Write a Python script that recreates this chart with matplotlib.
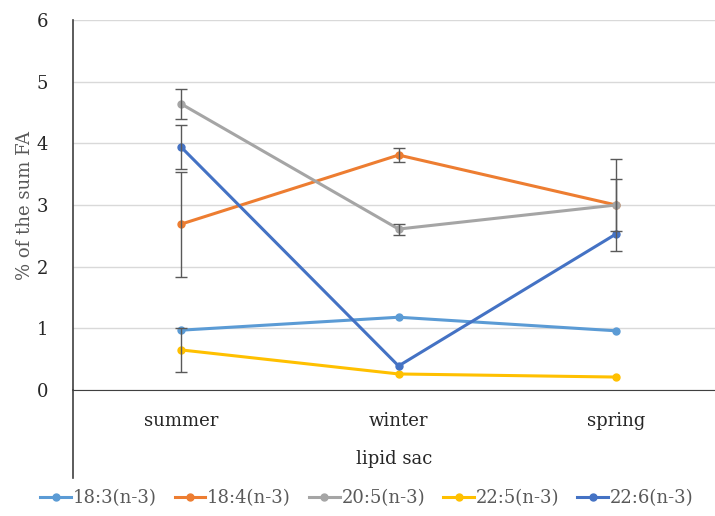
import matplotlib.pyplot as plt
import numpy as np

# data
seasons = ["summer", "winter", "spring"]
series_names = ["18:3(n-3)", "18:4(n-3)", "20:5(n-3)", "22:5(n-3)", "22:6(n-3)"]
fa_18_3 = [0.97, 1.18, 0.96]
fa_18_4 = [2.69, 3.81, 3.00]
fa_20_5 = [4.64, 2.61, 3.00]
fa_22_5 = [0.65, 0.26, 0.21]
fa_22_6 = [3.94, 0.39, 2.53]

# error bars (nan = none shown)
err_18_3 = [np.nan, np.nan, np.nan]
err_18_4 = [0.85, 0.12, 0.42]
err_20_5 = [0.24, 0.09, 0.75]
err_22_5 = [0.36, np.nan, np.nan]
err_22_6 = [0.35, np.nan, np.nan]

colors = ["#5B9BD5", "#ED7D31", "#A5A5A5", "#FFC000", "#4472C4"]
values = [fa_18_3, fa_18_4, fa_20_5, fa_22_5, fa_22_6]
errors = [err_18_3, err_18_4, err_20_5, err_22_5, err_22_6]

plt.rcParams['font.family'] = ['DejaVu Serif']

fig = plt.figure(figsize=(7.15, 5.16), dpi=100)
# axes from pixel y=20 (6) to y=390 (0), left at x=73
ax = fig.add_axes([73 / 715, 1 - 390 / 516, 1 - 73 / 715, 370 / 516])

x = np.arange(len(seasons))
for vals, errs, col, name in zip(values, errors, colors, series_names):
    ax.plot(x, vals, color=col, lw=2.2, marker="o", ms=5, label=name, zorder=3)
    e = np.array(errs, dtype=float)
    mask = ~np.isnan(e)
    if mask.any():
        ax.errorbar(x[mask], np.array(vals)[mask], yerr=e[mask], fmt="none",
                    ecolor="#595959", elinewidth=1, capsize=4, capthick=1, zorder=4)

ax.set_xlim(-0.497, 2.455)
ax.set_ylim(0, 6)
ax.set_yticks(range(7))
ax.grid(axis="y", color="#d9d9d9", lw=1)
ax.set_axisbelow(True)
for s in ["top", "right"]:
    ax.spines[s].set_visible(False)
ax.spines["bottom"].set_color("#404040")
ax.spines["left"].set_color("#404040")
ax.spines["left"].set_linewidth(1.2)
# left axis line keeps going below the zero line
ax.plot([0, 0], [0, -88 / 370], transform=ax.transAxes, color="#404040",
        lw=1.2, clip_on=False)

ax.set_xticks(x)
ax.set_xticklabels(seasons, fontsize=13, color="#262626")
ax.tick_params(axis="x", length=0, pad=16)
ax.tick_params(axis="y", length=0, pad=18, labelsize=13, labelcolor="#262626")
ax.set_xlabel("lipid sac", fontsize=13, color="#262626", labelpad=14)
ax.set_ylabel("% of the sum FA", fontsize=13, color="#595959", labelpad=2)

fig.legend(loc="lower center", ncol=5, frameon=False, fontsize=13,
           bbox_to_anchor=(0.513, -0.015), handlelength=1.7, handletextpad=0.1,
           columnspacing=1.0, labelcolor="#595959")

fig.savefig("out.png", dpi=100)
